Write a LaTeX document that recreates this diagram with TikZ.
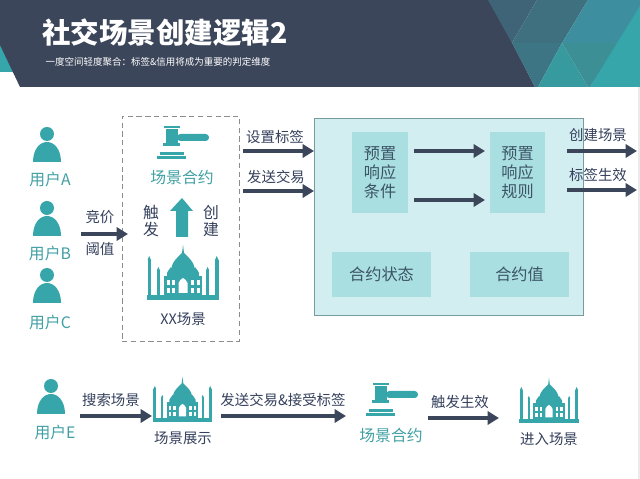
\documentclass[tikz,border=0pt]{standalone}
\usepackage{fontspec}
\setmainfont{Noto Sans CJK SC}
\usetikzlibrary{arrows.meta}
\definecolor{headdark}{HTML}{3C465A}
\definecolor{iconteal}{HTML}{36A6AB}
\definecolor{textnavy}{HTML}{34405C}
\definecolor{boxpale}{HTML}{D3EEF0}
\definecolor{boxmid}{HTML}{AADFE2}
\definecolor{HeaderA}{HTML}{3F6478}
\definecolor{HeaderB}{HTML}{3F7080}
\definecolor{HeaderC}{HTML}{3E7585}
\definecolor{HeaderD}{HTML}{3D8F9F}
\definecolor{HeaderE}{HTML}{379A9F}
\definecolor{HeaderF}{HTML}{3D8F96}
\tikzset{
    flowarrow/.style={draw=headdark,line width=2pt,-{Triangle[length=6.5pt,width=7.5pt]}},
    darktext/.style={text=textnavy,font=\fontsize{8.2}{10}\selectfont},
    tealtext/.style={text=iconteal!85!gray,font=\fontsize{9}{11}\selectfont},
    boxtext/.style={text=headdark!85!iconteal,font=\fontsize{9.2}{10.8}\selectfont,align=center},
    innerbox/.style={fill=boxmid,inner sep=0pt},
    person/.pic={
        \fill[iconteal] (0,-28) circle (7);
        \fill[iconteal] (-14,0) .. controls (-14,-13) and (-7,-20) .. (0,-20)
            .. controls (7,-20) and (14,-13) .. (14,0) -- cycle;
    },
    gavel/.pic={
        \fill[iconteal] (7,0) rectangle (23,2.5);
        \fill[iconteal] (8.5,3) rectangle (21,17);
        \fill[iconteal] (6,17.5) rectangle (23,20);
        \fill[iconteal,rounded corners=1.9pt] (20,8) rectangle (52,15);
        \fill[iconteal] (3,26) rectangle (27,29);
        \fill[iconteal] (0,30) rectangle (29,33);
    },
    palace/.pic={
        \fill[iconteal] (-36,0) rectangle (36,-5);
        \fill[iconteal] (-35.5,-4) rectangle (-32,-40);
        \fill[iconteal] (35.5,-4) rectangle (32,-40);
        \fill[iconteal] (-35.5,-40) -- (-33.75,-44) -- (-32,-40) -- cycle;
        \fill[iconteal] (35.5,-40) -- (33.75,-44) -- (32,-40) -- cycle;
        \fill[iconteal] (-26,-4) rectangle (-23.2,-30);
        \fill[iconteal] (26,-4) rectangle (23.2,-30);
        \fill[iconteal] (-26,-30) -- (-24.6,-33) -- (-23.2,-30) -- cycle;
        \fill[iconteal] (26,-30) -- (24.6,-33) -- (23.2,-30) -- cycle;
        \fill[iconteal] (-19,-4) rectangle (19,-24);
        \fill[iconteal] (-16,-24) .. controls (-17,-29) and (-13,-30) .. (-12,-33)
            .. controls (-11,-30) and (-7,-29) .. (-8,-24) -- cycle;
        \fill[iconteal] (16,-24) .. controls (17,-29) and (13,-30) .. (12,-33)
            .. controls (11,-30) and (7,-29) .. (8,-24) -- cycle;
        \fill[iconteal] (-9,-24) .. controls (-16,-34) and (-7,-41) .. (-1,-47)
            -- (0,-55) -- (1,-47)
            .. controls (7,-41) and (16,-34) .. (9,-24) -- cycle;
        \fill[white] (-4.5,-7) -- (-4.5,-17) .. controls (-4,-20) and (-1,-21) .. (0,-22)
            .. controls (1,-21) and (4,-20) .. (4.5,-17) -- (4.5,-7) -- cycle;
        \fill[white] (-16.5,-7) rectangle (-13.5,-12);
        \fill[white] (-11,-7) rectangle (-8,-12);
        \fill[white] (-16.5,-15) rectangle (-13.5,-20);
        \fill[white] (-11,-15) rectangle (-8,-20);
        \fill[white] (16.5,-7) rectangle (13.5,-12);
        \fill[white] (11,-7) rectangle (8,-12);
        \fill[white] (16.5,-15) rectangle (13.5,-20);
        \fill[white] (11,-15) rectangle (8,-20);
    },
}
\begin{document}
\begin{tikzpicture}[x=0.02cm,y=-0.02cm]
    \useasboundingbox (0,0) rectangle (640,479);
    \fill[white] (0,0) rectangle (640,479);
    \fill[black!8] (638,87) rectangle (640,479);
    % header
    \fill[iconteal] (0,40) -- (20,72) -- (0,72) -- cycle;
    \fill[headdark] (0,0) -- (490,0) -- (535,87) -- (20,87) -- (0,45) -- cycle;
    \fill[HeaderA] (488,0) -- (537,0) -- (512,43) -- cycle;
    \fill[HeaderB] (537,0) -- (588,0) -- (562,43) -- (512,43) -- cycle;
    \fill[HeaderC] (512,43) -- (562,43) -- (538,87) -- (535,87) -- cycle;
    \fill[HeaderD] (588,0) -- (640,0) -- (640,8) -- (620,43) -- (562,43) -- cycle;
    \fill[HeaderE] (562,43) -- (588,87) -- (538,87) -- cycle;
    \fill[HeaderF] (562,43) -- (620,43) -- (590,87) -- (588,87) -- cycle;
    \fill[iconteal] (640,6) -- (590,87) -- (640,87) -- cycle;
    \node (title) at (165,33) {\textcolor{white}{\bfseries\fontsize{16.2}{18}\selectfont 社交场景创建逻辑2}};
    \node (subtitle) at (158,62) {\textcolor{white}{\fontsize{5.4}{7}\selectfont 一度空间轻度聚合：标签\&信用将成为重要的判定维度}};

    % users
    \pic at (47,162) {person};
    \pic at (47,236) {person};
    \pic at (47,303) {person};
    \node[tealtext] (usera) at (50,180) {用户A};
    \node[tealtext] (userb) at (50,254) {用户B};
    \node[tealtext] (userc) at (50,323) {用户C};

    % dashed box with contract and scene
    \node[draw=black!45,densely dashed,line width=0.3pt,minimum width=117*0.02cm,minimum height=225*0.02cm,inner sep=0pt] (scenebox) at (180.5,228.5) {};
    \pic at (157,126) {gavel};
    \node[tealtext] (contract) at (182,177) {场景合约};
    \fill[iconteal] (176,237) -- (188,237) -- (188,211) -- (193,211) -- (182,198) -- (170,211) -- (176,211) -- cycle;
    \node[darktext,align=center,font=\fontsize{9}{10.2}\selectfont] (trigger) at (151,221) {触\\发};
    \node[darktext,align=center,font=\fontsize{9}{10.2}\selectfont] (create) at (211,221) {创\\建};
    \pic at (183,300) {palace};
    \node[darktext] (xxscene) at (183,319) {XX场景};

    % bidding arrow
    \coordinate (bidstart) at (81,234);
    \coordinate (bidend) at (128,234);
    \draw[flowarrow] (bidstart) -- (bidend);
    \node[darktext] (bid) at (100,217) {竞价};
    \node[darktext] (threshold) at (100,249) {阈值};

    % contract block
    \node[fill=boxpale,draw=black!30!boxmid,line width=0.5pt,minimum width=269*0.02cm,minimum height=197*0.02cm,inner sep=0pt] (contractblock) at (448.5,216.5) {};
    \node[innerbox,minimum width=56*0.02cm,minimum height=81*0.02cm] (condbox) at (380,172.5) {};
    \node[innerbox,minimum width=55*0.02cm,minimum height=81*0.02cm] (rulebox) at (517.5,172.5) {};
    \node[boxtext] (condtext) at (380,173) {预置\\响应\\条件};
    \node[boxtext] (ruletext) at (517.5,173) {预置\\响应\\规则};
    \node[innerbox,boxtext,minimum width=99*0.02cm,minimum height=45*0.02cm] (statebox) at (381.5,274.5) {合约状态};
    \node[innerbox,boxtext,minimum width=99*0.02cm,minimum height=45*0.02cm] (valuebox) at (519.5,274.5) {合约值};

    % arrows into and out of the block
    \coordinate (tagstart) at (243,151);
    \coordinate (tagend) at (314,151);
    \coordinate (sendstart) at (243,191);
    \coordinate (sendend) at (314,191);
    \coordinate (condupper) at (414,151);
    \coordinate (ruleupper) at (485,151);
    \coordinate (condlower) at (414,200);
    \coordinate (rulelower) at (485,200);
    \coordinate (outstart) at (567,151);
    \coordinate (outend) at (637,151);
    \coordinate (effstart) at (567,190);
    \coordinate (effend) at (637,190);
    \draw[flowarrow] (tagstart) -- (tagend);
    \draw[flowarrow] (sendstart) -- (sendend);
    \draw[flowarrow] (condupper) -- (ruleupper);
    \draw[flowarrow] (condlower) -- (rulelower);
    \draw[flowarrow] (outstart) -- (outend);
    \draw[flowarrow] (effstart) -- (effend);
    \node[darktext] (settag) at (275,137) {设置标签};
    \node[darktext] (sendtx) at (276,177) {发送交易};
    \node[darktext] (makescene) at (598,135) {创建场景};
    \node[darktext] (tageffect) at (598,175) {标签生效};

    % bottom row
    \pic at (51,414) {person};
    \node[tealtext] (usere) at (55,433) {用户E};
    \pic[scale=0.82] at (182.5,422) {palace};
    \node[darktext] (showscene) at (183,438) {场景展示};
    \pic at (366,383) {gavel};
    \node[tealtext] (contractlow) at (391,435) {场景合约};
    \pic[scale=0.82] at (549,423) {palace};
    \node[darktext] (enterscene) at (549,439) {进入场景};
    \coordinate (searchstart) at (80,416);
    \coordinate (searchend) at (152,416);
    \coordinate (acceptstart) at (221,416);
    \coordinate (acceptend) at (346,416);
    \coordinate (firestart) at (428,418);
    \coordinate (fireend) at (499,418);
    \draw[flowarrow] (searchstart) -- (searchend);
    \draw[flowarrow] (acceptstart) -- (acceptend);
    \draw[flowarrow] (firestart) -- (fireend);
    \node[darktext] (search) at (111,400) {搜索场景};
    \node[darktext] (accept) at (283,400) {发送交易\&接受标签};
    \node[darktext] (fire) at (460,402) {触发生效};
\end{tikzpicture}
\end{document}
